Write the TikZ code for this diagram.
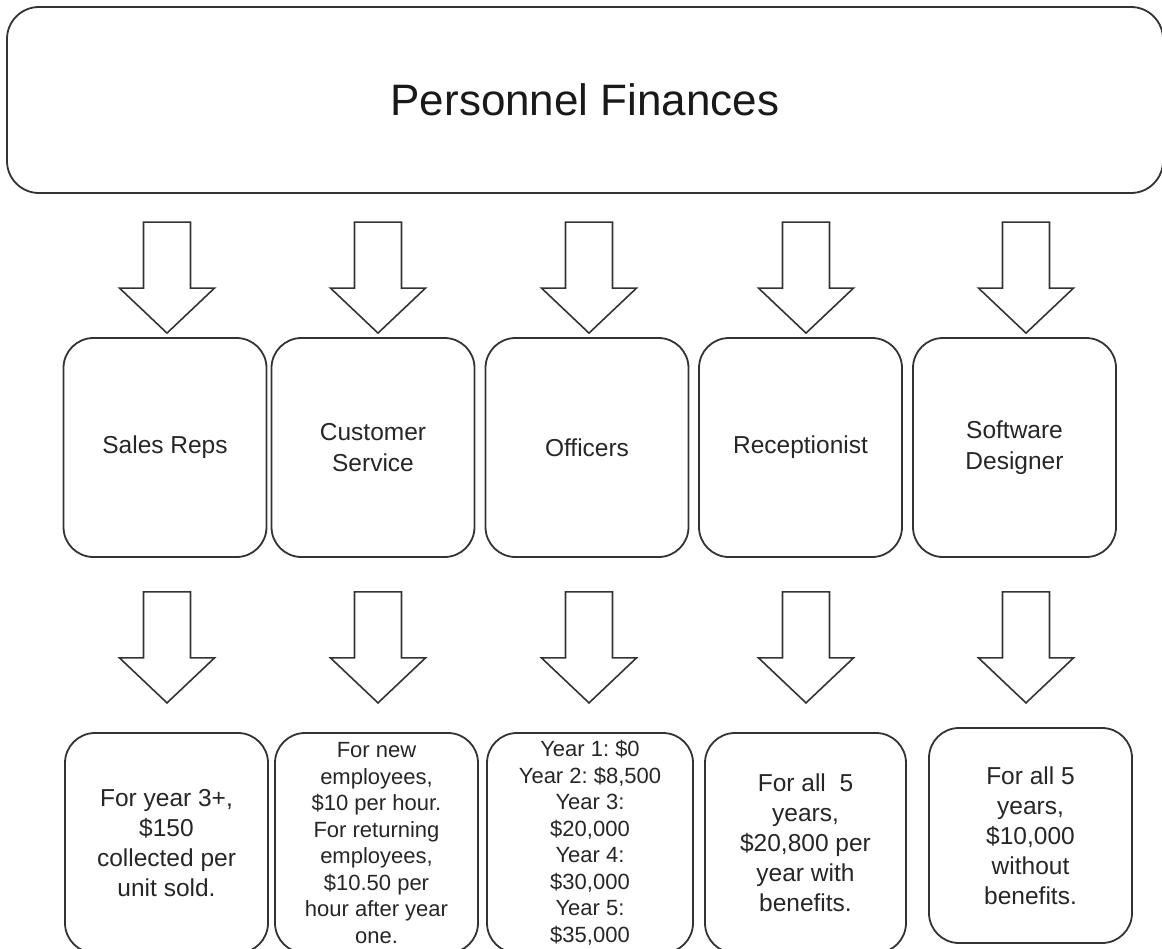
\documentclass[tikz,border=0pt]{standalone}
\usepackage{fontspec}
\setmainfont{Liberation Sans}
\usetikzlibrary{calc}
\frenchspacing

\begin{document}
\begin{tikzpicture} [x=1pt,y=-1pt,
    titlebox/.style={draw=black!80, line width=1.8pt, rounded corners=32pt, minimum width=1156pt, minimum height=186pt, font=\fontsize{44}{52}\selectfont, text=black!90},
    rolebox/.style={draw=black!80, line width=1.8pt, rounded corners=30pt, minimum width=203pt, minimum height=219pt, align=center, font=\fontsize{24.5}{31}\selectfont, text=black!85},
    paybox/.style={draw=black!80, line width=1.8pt, rounded corners=30pt, minimum width=203pt, minimum height=220pt, inner sep=2pt, align=center, font=\fontsize{24.5}{30}\selectfont, text=black!85},
    smalltext/.style={font=\fontsize{22}{26.5}\selectfont},
    hollowarrow/.style={draw=black!80, line width=1.6pt, fill=white, line join=miter}]
    \clip (0,0) rectangle (1162,948);
    \path node (finances) at (585,100) [titlebox] {Personnel Finances};
    \path node (sales) at (165,447.5) [rolebox] {Sales Reps}
          node (service) at (373,447.5) [rolebox] {Customer\\Service}
          node (officers) at (587,447.5) [rolebox] {Officers}
          node (recept) at (800.5,447.5) [rolebox] {Receptionist}
          node (designer) at (1014.5,447.5) [rolebox] {Software\\Designer};
    \path node (salespay) at (166.5,843) [paybox] {For year 3+,\\\$150\\collected per\\unit sold.}
          node (servicepay) at (376.5,843) [paybox, smalltext] {For new\\employees,\\\$10 per hour.\\For returning\\employees,\\\$10.50 per\\hour after year\\one.}
          node (officerspay) at (590,843) [paybox, smalltext, minimum width=206pt] {Year 1: \$0\\Year 2: \$8,500\\Year 3:\\\$20,000\\Year 4:\\\$30,000\\Year 5:\\\$35,000}
          node (receptpay) at (805.5,843) [paybox, minimum width=201pt] {For all~ 5\\years,\\\$20,800 per\\year with\\benefits.}
          node (designerpay) at (1030.5,835.5) [paybox, minimum height=215pt] {For all 5\\years,\\\$10,000\\without\\benefits.};
    \foreach \n/\dx in {sales/2, service/5, officers/2, recept/5.5, designer/11.5} {
        \draw [hollowarrow] ($(\n.north)+(\dx,-4)$) -- ++(47.5,-45) -- ++(-24,0) -- ++(0,-66)
              -- ++(-47,0) -- ++(0,66) -- ++(-24,0) -- cycle;
        \draw [hollowarrow] ($(\n.south)+(\dx,145)$) -- ++(47.5,-45) -- ++(-24,0) -- ++(0,-66)
              -- ++(-47,0) -- ++(0,66) -- ++(-24,0) -- cycle;
    }
\end{tikzpicture}
\end{document}
